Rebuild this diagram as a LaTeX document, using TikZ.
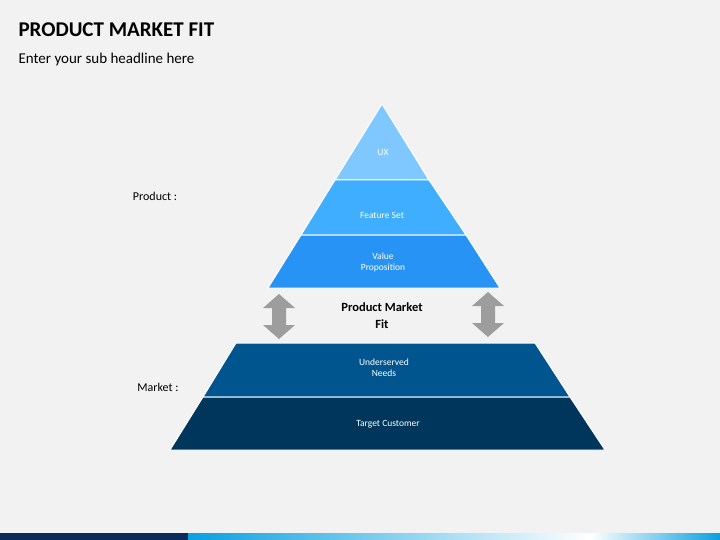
\documentclass[tikz,border=0pt]{standalone}
\usepackage{fontspec}
\setmainfont{Carlito}
\usetikzlibrary{positioning}
\definecolor{bgGray}{HTML}{F2F2F2}
\definecolor{uxBlue}{HTML}{7FC8FF}
\definecolor{featBlue}{HTML}{3FAEFF}
\definecolor{valBlue}{HTML}{2794F5}
\definecolor{needBlue}{HTML}{00558F}
\definecolor{custBlue}{HTML}{00365C}
\definecolor{navy}{HTML}{0D2A5C}
\definecolor{barBlue}{HTML}{0AA0E0}
\tikzset{
  layer/.style={draw=white, line width=1pt},
  layertext/.style={text=white, font=\fontsize{9.5}{11}\selectfont, align=center},
  sidetext/.style={font=\fontsize{12}{14}\selectfont},
  fitarrow/.style={fill=gray!90!black!70, draw=none}
}
\begin{document}
\begin{tikzpicture}[x=1pt,y=-1pt]
    \useasboundingbox (0,0) rectangle (720,540);
    \fill[bgGray] (0,0) rectangle (720,540);

    % Title
    \node[anchor=west, font=\bfseries\fontsize{21}{24}\selectfont] (title) at (15,30) {PRODUCT MARKET FIT};
    \node[anchor=west, font=\fontsize{15}{18}\selectfont] (subtitle) at (15,60) {Enter your sub headline here};

    % Product pyramid
    \filldraw[layer, fill=uxBlue] (382,104) -- (429,180) -- (335,180) -- cycle;
    \filldraw[layer, fill=featBlue] (335,180) -- (429,180) -- (466,235) -- (301,235) -- cycle;
    \filldraw[layer, fill=valBlue] (301,235) -- (466,235) -- (500,288) -- (268,288) -- cycle;
    \node[layertext] (ux) at (383,152) {UX};
    \node[layertext] (feature) at (382,215) {Feature Set};
    \node[layertext] (value) at (383,262) {Value\\Proposition};

    % Market base
    \filldraw[layer, fill=needBlue] (236,343) -- (535,343) -- (570,397) -- (203,397) -- cycle;
    \filldraw[layer, fill=custBlue] (203,397) -- (570,397) -- (605,450) -- (170,450) -- cycle;
    \node[layertext] (needs) at (384,368) {Underserved\\Needs};
    \node[layertext] (customer) at (388,424) {Target Customer};

    % Labels
    \node[sidetext] (product) at (155,196) {Product :};
    \node[sidetext] (market) at (158,387) {Market :};
    \node[font=\bfseries\fontsize{12.5}{17}\selectfont, align=center] (pmf) at (382,316) {Product Market\\Fit};

    % Double arrows
    \foreach \ax/\ay in {279/294, 488/292} {
      \fill[fitarrow] (\ax,\ay) -- (\ax+16,\ay+14) -- (\ax+7,\ay+14) -- (\ax+7,\ay+31)
        -- (\ax+16,\ay+31) -- (\ax,\ay+45) -- (\ax-16,\ay+31) -- (\ax-7,\ay+31)
        -- (\ax-7,\ay+14) -- (\ax-16,\ay+14) -- cycle;
    }

    % Bottom bar
    \fill[navy] (0,533) rectangle (188,540);
    \shade[left color=barBlue, right color=white] (188,533) rectangle (590,540);
    \shade[left color=white, right color=barBlue] (590,533) rectangle (720,540);
\end{tikzpicture}
\end{document}
